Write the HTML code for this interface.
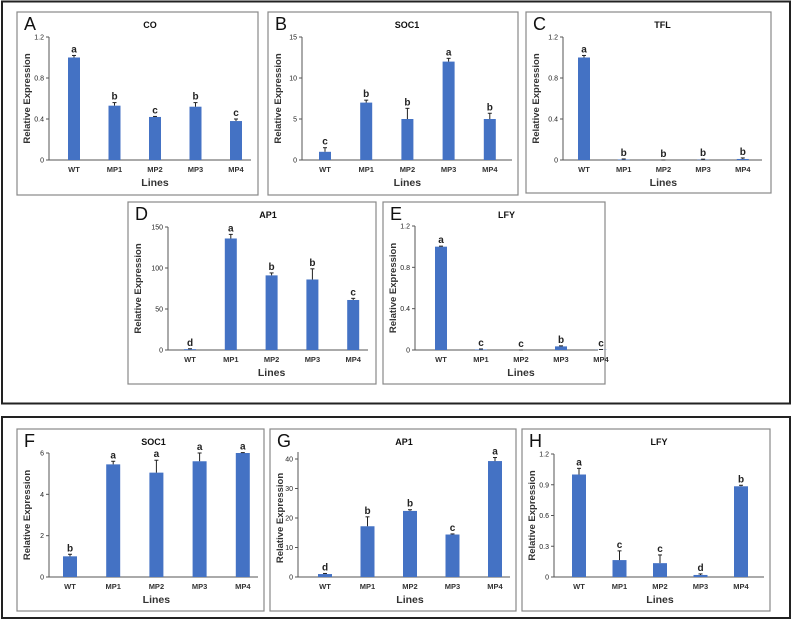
<!DOCTYPE html>
<html><head><meta charset="utf-8"><style>
html,body{margin:0;padding:0;background:#fff;}
svg{display:block;font-family:"Liberation Sans",Arial,sans-serif;}
</style></head><body>
<svg id="fig" width="793" height="622" viewBox="0 0 793 622">
<rect x="2" y="1.5" width="788" height="402" fill="none" stroke="#222" stroke-width="2"/>
<rect x="2" y="417" width="788" height="201" fill="none" stroke="#222" stroke-width="2"/>
</svg>
<script>
const categories = ["WT","MP1","MP2","MP3","MP4"];
const coValues = [1.0,0.53,0.42,0.52,0.38];
const coErrors = [0.02,0.03,0.005,0.04,0.02];
const coLetters = ["a","b","c","b","c"];
const coTicks = [0,0.4,0.8,1.2];
const soc1Values = [1.0,7.0,5.0,12.0,5.0];
const soc1Errors = [0.5,0.3,1.3,0.4,0.7];
const soc1Letters = ["c","b","b","a","b"];
const soc1Ticks = [0,5,10,15];
const tflValues = [1.0,0.005,0.0,0.003,0.01];
const tflErrors = [0.02,0.005,0.0,0.005,0.01];
const tflLetters = ["a","b","b","b","b"];
const tflTicks = [0,0.4,0.8,1.2];
const ap1Values = [1,136,91,86,61];
const ap1Errors = [0.5,5,3,13,2];
const ap1Letters = ["d","a","b","b","c"];
const ap1Ticks = [0,50,100,150];
const lfyValues = [1.0,0.005,0.0,0.035,0.002];
const lfyErrors = [0.005,0.005,0.0,0.005,0.003];
const lfyLetters = ["a","c","c","b","c"];
const lfyTicks = [0,0.4,0.8,1.2];
const soc1bValues = [1.0,5.45,5.05,5.6,6.0];
const soc1bErrors = [0.1,0.15,0.6,0.4,0.02];
const soc1bLetters = ["b","a","a","a","a"];
const soc1bTicks = [0,2,4,6];
const ap1bValues = [1.0,17.2,22.4,14.4,39.3];
const ap1bErrors = [0.2,3.2,0.4,0.2,1.2];
const ap1bLetters = ["d","b","b","c","a"];
const ap1bTicks = [0,10,20,30,40];
const lfybValues = [1.0,0.165,0.135,0.02,0.885];
const lfybErrors = [0.06,0.09,0.08,0.01,0.01];
const lfybLetters = ["a","c","c","d","b"];
const lfybTicks = [0,0.3,0.6,0.9,1.2];

const NS="http://www.w3.org/2000/svg";
const svg=document.getElementById('fig');
function mk(tag,attrs,parent,text){
  const e=document.createElementNS(NS,tag);
  for(const k in attrs)e.setAttribute(k,attrs[k]);
  if(text!==undefined)e.textContent=text;
  parent.appendChild(e);return e;
}
function panel(p){
  const g=mk('g',{},svg);
  
  
  const fr=mk('rect',{x:p.box[0],y:p.box[1],width:p.box[2]-p.box[0],height:p.box[3]-p.box[1],fill:'#fff',stroke:'#888','stroke-width':1.2},g);
  
  
  const y=v=>p.y0-(v/p.max)*(p.y0-p.yTop);
  const x=i=>p.c0+i*p.step;
  const lt=mk('text',{x:p.box[0]+7,y:p.box[1]+18,'font-size':18,fill:'#111'},g,p.letter);
  
  
  const tt=mk('text',{x:(p.ax+p.axEnd)/2,y:p.box[1]+16,'font-size':9,'font-weight':'bold','text-anchor':'middle',fill:'#111'},g,p.title);
  
  
  const ya=mk('line',{x1:p.ax,y1:p.axTop||p.yTop,x2:p.ax,y2:p.y0,stroke:'#555','stroke-width':1},g);
  
  
  const xa=mk('line',{x1:p.ax,y1:p.y0,x2:p.axEnd,y2:p.y0,stroke:'#555','stroke-width':1},g);
  
  
  p.ticks.forEach(t=>{
    mk('line',{x1:p.ax-3,y1:y(t),x2:p.ax,y2:y(t),stroke:'#555'},g);
    const tl=mk('text',{x:p.ax-5,y:y(t)+2.5,'font-size':7,'text-anchor':'end',fill:'#222'},g,String(t));
    
    
  });
  const bw=p.bw||12;
  p.values.forEach((v,i)=>{
    const cx=x(i), top=y(v);
    const b=mk('rect',{x:cx-bw/2,y:top,width:bw,height:Math.max(0,p.y0-top),fill:'#4472c4'},g);
    
    
    const et=y(v+p.errors[i]);
    mk('line',{x1:cx,y1:top,x2:cx,y2:et,stroke:'#222','stroke-width':1},g);
    mk('line',{x1:cx-2,y1:et,x2:cx+2,y2:et,stroke:'#222','stroke-width':1},g);
    const sl=mk('text',{x:cx,y:et-3,'font-size':10,'font-weight':'bold','text-anchor':'middle',fill:'#222'},g,p.letters[i]);
    
    
    const xl=mk('text',{x:cx,y:p.y0+12,'font-size':7.5,'font-weight':'bold','text-anchor':'middle',fill:'#333'},g,categories[i]);
    
    
  });
  const xt=mk('text',{x:x(2),y:p.y0+26,'font-size':10.5,'font-weight':'bold','text-anchor':'middle',fill:'#333'},g,'Lines');
  
  
  const yc=(p.y0+p.yTop)/2, yx=p.box[0]+13;
  const yt=mk('text',{x:yx,y:yc,'font-size':9.5,'font-weight':'bold','text-anchor':'middle',fill:'#333',transform:`rotate(-90 ${yx} ${yc})`},g,'Relative Expression');
  
  
}
panel({id:'a',letter:'A',title:'CO',box:[17,12,258,195],ax:49,axEnd:251,y0:160,yTop:37,max:1.2,ticks:coTicks,c0:74,step:40.5,values:coValues,errors:coErrors,letters:coLetters});
panel({id:'b',letter:'B',title:'SOC1',box:[268,12,518,195],ax:302,axEnd:512,y0:160,yTop:37,max:15,ticks:soc1Ticks,c0:325,step:41.2,values:soc1Values,errors:soc1Errors,letters:soc1Letters});
panel({id:'c',letter:'C',title:'TFL',box:[526,12,771,193],ax:563,axEnd:762,y0:160,yTop:37,max:1.2,ticks:tflTicks,c0:584,step:39.7,values:tflValues,errors:tflErrors,letters:tflLetters});
panel({id:'d',letter:'D',title:'AP1',box:[128,202,376,384],ax:168,axEnd:368,y0:350,yTop:227,max:150,ticks:ap1Ticks,c0:190,step:40.8,values:ap1Values,errors:ap1Errors,letters:ap1Letters});
panel({id:'e',letter:'E',title:'LFY',box:[383,202,605,384],ax:415,axEnd:598,y0:350,yTop:226,max:1.2,ticks:lfyTicks,c0:441,step:40,values:lfyValues,errors:lfyErrors,letters:lfyLetters});
panel({id:'f',letter:'F',title:'SOC1',box:[17,429,264,611],ax:49,axEnd:258,y0:577,yTop:453,max:6,ticks:soc1bTicks,c0:70,step:43.2,values:soc1bValues,errors:soc1bErrors,letters:soc1bLetters,bw:14});
panel({id:'g',letter:'G',title:'AP1',box:[270,429,516,611],ax:298,axEnd:510,y0:577,yTop:459,axTop:452,max:40,ticks:ap1bTicks,c0:325,step:42.5,values:ap1bValues,errors:ap1bErrors,letters:ap1bLetters,bw:14});
panel({id:'h',letter:'H',title:'LFY',box:[522,429,770,611],ax:554,axEnd:764,y0:577,yTop:454,max:1.2,ticks:lfybTicks,c0:579,step:40.5,values:lfybValues,errors:lfybErrors,letters:lfybLetters,bw:14});
</script>
</body></html>
